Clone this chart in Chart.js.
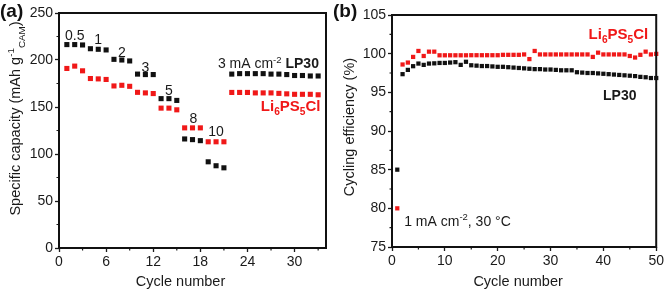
<!DOCTYPE html>
<html>
<head>
<meta charset="utf-8">
<script src="https://cdn.jsdelivr.net/npm/chart.js@4.4.1/dist/chart.umd.min.js"></script>
<style>
  html, body { margin: 0; padding: 0; background: #fff; }
  #wrap { position: relative; width: 666px; height: 290px; overflow: hidden; }
  canvas { position: absolute; top: 0; }
  #capA { left: 0; }
  #capB { left: 333px; }
</style>
</head>
<body>
<div id="wrap">
  <canvas id="capA" width="333" height="290"></canvas>
  <canvas id="capB" width="333" height="290"></canvas>
</div>
<script>
// ---- (a) rate test: specific capacity vs cycle ----
const cyclesA = [1, 2, 3, 4, 5, 6, 7, 8, 9, 10, 11, 12, 13, 14, 15, 16, 17, 18, 19, 20, 21,
                 22, 23, 24, 25, 26, 27, 28, 29, 30, 31, 32, 33];
const capLP30 = [216.4, 216.4, 216, 212, 211.4, 210.7, 200.7, 200, 199, 185, 184.5, 184.5,
                 158.9, 158.9, 157, 116, 115.3, 114.2, 91.7, 87.5, 85.3,
                 185, 185.5, 185.5, 185.5, 185.5, 185, 185, 184.5, 183.5, 183.5, 183, 183];
const capLPSCl = [191, 193.5, 188.5, 180.3, 179.9, 179.3, 172.4, 173.1, 172, 165.6, 165, 164.3,
                  148.8, 148.8, 147, 127.8, 127.8, 127.8, 113, 113, 113,
                  165.5, 165.5, 165.5, 165, 165, 165, 164.5, 164, 163.5, 163.5, 163.5, 163];
const rateLabels = ['0.5', '1', '2', '3', '5', '8', '10'];
const xTicksA = [0, 6, 12, 18, 24, 30];
const xMinorA = [3, 9, 15, 21, 27, 33];
const yTicksA = [0, 50, 100, 150, 200, 250];
const yMinorA = [25, 75, 125, 175, 225];

// ---- (b) cycling efficiency vs cycle ----
const cyclesB = [1, 2, 3, 4, 5, 6, 7, 8, 9, 10, 11, 12, 13, 14, 15, 16, 17, 18, 19, 20,
                 21, 22, 23, 24, 25, 26, 27, 28, 29, 30, 31, 32, 33, 34, 35, 36, 37, 38, 39, 40,
                 41, 42, 43, 44, 45, 46, 47, 48, 49, 50];
const effLP30 = [85, 97.35, 97.9, 98.38, 98.72, 98.55, 98.72, 98.75, 98.8, 98.8,
                 98.85, 98.9, 98.55, 98.95, 98.5, 98.45, 98.4, 98.4, 98.35, 98.3,
                 98.3, 98.25, 98.2, 98.15, 98.1, 98.05, 98.0, 98.0, 97.95, 97.95,
                 97.9, 97.85, 97.85, 97.85, 97.6, 97.55, 97.5, 97.5, 97.45, 97.4,
                 97.35, 97.3, 97.25, 97.2, 97.15, 97.1, 97.0, 96.95, 96.85, 96.85];
const effLPSCl = [80, 98.6, 98.85, 99.58, 100.35, 99.7, 100.26, 100.26, 99.79, 99.79,
                  99.79, 99.79, 99.79, 99.79, 99.8, 99.8, 99.8, 99.8, 99.8, 99.8,
                  99.85, 99.85, 99.85, 99.85, 99.9, 99.3, 100.35, 99.9, 99.9, 99.9,
                  99.9, 99.9, 99.9, 99.9, 99.9, 99.9, 99.9, 99.58, 100.13, 99.9,
                  99.9, 99.9, 99.9, 99.9, 99.7, 99.5, 99.85, 100.26, 99.9, 99.97];
const xTicksB = [0, 10, 20, 30, 40, 50];
const xMinorB = [5, 15, 25, 35, 45];
const yTicksB = [75, 80, 85, 90, 95, 100, 105];
const yMinorB = [77.5, 82.5, 87.5, 92.5, 97.5, 102.5];

const FONT = '"Liberation Sans", Arial, Helvetica, sans-serif';
const INK = '#1a1a1a';
const BLACK = '#111111';
const RED = '#f01818';

// text with super/subscript pieces
function drawRich(ctx, segs, x, y, size, align, color) {
  const parts = segs.map(s => {
    const sz = (s.sub || s.sup) ? size * 0.68 : size;
    const font = (s.bold ? 'bold ' : '') + sz + 'px ' + FONT;
    ctx.font = font;
    return { s, font, w: ctx.measureText(s.t).width };
  });
  const total = parts.reduce((a, p) => a + p.w, 0);
  let cx = align === 'right' ? x - total : align === 'center' ? x - total / 2 : x;
  const base = y + size * 0.36;
  ctx.textAlign = 'left';
  ctx.textBaseline = 'alphabetic';
  parts.forEach(p => {
    ctx.font = p.font;
    ctx.fillStyle = color || INK;
    const dy = p.s.sup ? -size * 0.4 : p.s.sub ? size * 0.3 : 0;
    ctx.fillText(p.s.t, cx, base + dy);
    cx += p.w;
  });
}

const decor = {
  id: 'decor',
  afterDraw(chart, args, o) {
    const { ctx, chartArea: a, scales: { x, y } } = chart;
    ctx.save();
    ctx.strokeStyle = INK;
    ctx.lineWidth = 1.2;
    ctx.beginPath();
    o.minorX.forEach(v => {
      const px = x.getPixelForValue(v);
      ctx.moveTo(px, a.bottom); ctx.lineTo(px, a.bottom + 2.5);
    });
    o.minorY.forEach(v => {
      const py = y.getPixelForValue(v);
      ctx.moveTo(a.left - 2.5, py); ctx.lineTo(a.left, py);
    });
    ctx.stroke();

    ctx.lineWidth = 2;
    ctx.strokeStyle = BLACK;
    ctx.strokeRect(a.left, a.top, a.right - a.left, a.bottom - a.top);

    // panel tag
    ctx.font = 'bold 19px ' + FONT;
    ctx.fillStyle = BLACK;
    ctx.textAlign = 'left';
    ctx.textBaseline = 'middle';
    ctx.fillText(o.tag, 0, 12);

    // axis titles
    ctx.save();
    ctx.translate(o.yTitleX, (a.top + a.bottom) / 2 + o.yTitleShift);
    ctx.rotate(-Math.PI / 2);
    drawRich(ctx, o.yTitle, 0, 0, 14.5, 'center');
    ctx.restore();
    drawRich(ctx, [{ t: o.xTitle }], (a.left + a.right) / 2 + o.xTitleShift, 281, 14.5, 'center');

    o.notes.forEach(n => {
      drawRich(ctx, n.segs, x.getPixelForValue(n.x), y.getPixelForValue(n.y),
        n.size || 14, n.align || 'center', n.color);
    });
    ctx.restore();
  }
};

function axis(min, max, ticks, size, dir) {
  return {
    type: 'linear', min, max,
    afterBuildTicks: s => { s.ticks = ticks.map(v => ({ value: v })); },
    afterFit: s => { if (dir === 'x') s.height = size; else s.width = size; },
    border: { display: false },
    grid: { drawOnChartArea: false, drawTicks: true, tickLength: 4, tickColor: INK, tickWidth: 1.3 },
    ticks: { color: INK, font: { family: FONT, size: 14 }, padding: 2, maxRotation: 0, autoSkip: false }
  };
}

function series(xs, ys, color, r) {
  return {
    data: xs.map((c, i) => ({ x: c, y: ys[i] })),
    pointStyle: 'rect', pointRadius: r, pointBorderWidth: 0,
    pointBackgroundColor: color, backgroundColor: color, borderColor: color,
    showLine: false, clip: false
  };
}

function makeChart(id, datasets, xa, ya, pad, deco) {
  return new Chart(document.getElementById(id), {
    type: 'scatter',
    data: { datasets },
    options: {
      responsive: false,
      animation: false,
      layout: { padding: pad },
      plugins: { legend: { display: false }, tooltip: { enabled: false }, decor: deco },
      scales: { x: xa, y: ya }
    },
    plugins: [decor]
  });
}

// -------- panel (a) --------
const rateX = [2, 5, 8, 11, 14, 17.1, 20];
const rateY = [227, 222, 209, 193, 168, 138, 125];
makeChart('capA',
  [series(cyclesA, capLP30, BLACK, 3.6), series(cyclesA, capLPSCl, RED, 3.6)],
  axis(0, 34, xTicksA, 42, 'x'),
  axis(0, 250, yTicksA, 59, 'y'),
  { top: 13, right: 7, left: 0, bottom: 0 },
  {
    tag: '(a)', minorX: xMinorA, minorY: yMinorA,
    yTitle: [{ t: 'Specific capacity (mAh g' }, { t: '-1', sup: true }, { t: 'CAM', sub: true }, { t: ')' }],
    yTitleX: 15, yTitleShift: -12,
    xTitle: 'Cycle number', xTitleShift: -12,
    notes: rateLabels.map((t, i) => ({ segs: [{ t }], x: rateX[i], y: rateY[i] })).concat([
      { segs: [{ t: '3 mA cm' }, { t: '-2', sup: true }, { t: ' ' }, { t: 'LP30', bold: true }],
        x: 33.1, y: 196.4, align: 'right' },
      { segs: [{ t: 'Li', bold: true }, { t: '6', sub: true, bold: true }, { t: 'PS', bold: true },
               { t: '5', sub: true, bold: true }, { t: 'Cl', bold: true }],
        x: 33.3, y: 151.5, align: 'right', color: RED, size: 15 }
    ])
  });

// -------- panel (b) --------
makeChart('capB',
  [series(cyclesB, effLP30, BLACK, 3), series(cyclesB, effLPSCl, RED, 3)],
  axis(0, 50, xTicksB, 43, 'x'),
  axis(75, 105, yTicksB, 59, 'y'),
  { top: 15, right: 8, left: 0, bottom: 0 },
  {
    tag: '(b)', minorX: xMinorB, minorY: yMinorB,
    yTitle: [{ t: 'Cycling efficiency (%)' }],
    yTitleX: 16, yTitleShift: -4,
    xTitle: 'Cycle number', xTitleShift: -6,
    notes: [
      { segs: [{ t: 'Li', bold: true }, { t: '6', sub: true, bold: true }, { t: 'PS', bold: true },
               { t: '5', sub: true, bold: true }, { t: 'Cl', bold: true }],
        x: 48.5, y: 102.6, align: 'right', color: RED, size: 15 },
      { segs: [{ t: 'LP30', bold: true }], x: 43.1, y: 94.6 },
      { segs: [{ t: '1 mA cm' }, { t: '-2', sup: true }, { t: ', 30 °C' }],
        x: 2.3, y: 78.4, align: 'left' }
    ]
  });
</script>
</body>
</html>
